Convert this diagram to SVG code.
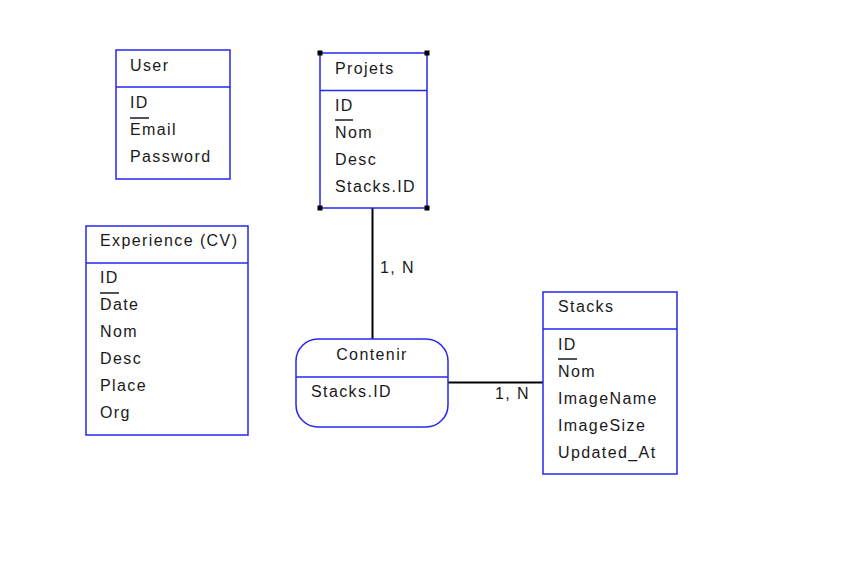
<svg xmlns="http://www.w3.org/2000/svg" width="850" height="567" viewBox="0 0 850 567">
<style>
.box{fill:#ffffff;stroke:#2626f2;stroke-width:1.5}
.div{stroke:#2626f2;stroke-width:1.5}
.t{font-family:"Liberation Sans",Arial,sans-serif;font-size:16px;letter-spacing:1.4px;fill:#1a1a1a}
.u{stroke:#1a1a1a;stroke-width:1.5}
.conn{stroke:#000000;stroke-width:2;fill:none}
.h{fill:#000000}
</style>
<rect width="850" height="567" fill="#ffffff"/>
<g id="connectors">
<line class="conn" x1="372.5" y1="208" x2="372.5" y2="339"/>
<line class="conn" x1="448" y1="382.5" x2="543" y2="382.5"/>
<text class="t" x="380" y="273">1, N</text>
<text class="t" x="495" y="399">1, N</text>
</g>
<g id="user">
<rect class="box" x="116" y="50" width="114" height="129"/>
<line class="div" x1="116" y1="87" x2="230" y2="87"/>
<text class="t" x="130" y="71">User</text>
<text class="t" x="130" y="108">ID</text>
<line class="u" x1="130" y1="118" x2="149" y2="118"/>
<text class="t" x="130" y="135">Email</text>
<text class="t" x="130" y="162">Password</text>
</g>
<g id="projets">
<rect class="box" x="320" y="53" width="107" height="155"/>
<line class="div" x1="320" y1="90.5" x2="427" y2="90.5"/>
<text class="t" x="335" y="74">Projets</text>
<text class="t" x="335" y="111">ID</text>
<line class="u" x1="335" y1="120" x2="353" y2="120"/>
<text class="t" x="335" y="138">Nom</text>
<text class="t" x="335" y="165">Desc</text>
<text class="t" x="335" y="192">Stacks.ID</text>
<rect class="h" x="317.5" y="50.5" width="5" height="5"/>
<rect class="h" x="424.5" y="50.5" width="5" height="5"/>
<rect class="h" x="317.5" y="205.5" width="5" height="5"/>
<rect class="h" x="424.5" y="205.5" width="5" height="5"/>
</g>
<g id="experience">
<rect class="box" x="86" y="226" width="162" height="209"/>
<line class="div" x1="86" y1="263" x2="248" y2="263"/>
<text class="t" x="100" y="246">Experience (CV)</text>
<text class="t" x="100" y="283">ID</text>
<line class="u" x1="100" y1="293" x2="119" y2="293"/>
<text class="t" x="100" y="310">Date</text>
<text class="t" x="100" y="337">Nom</text>
<text class="t" x="100" y="364">Desc</text>
<text class="t" x="100" y="391">Place</text>
<text class="t" x="100" y="418">Org</text>
</g>
<g id="stacks">
<rect class="box" x="543" y="292" width="134" height="182"/>
<line class="div" x1="543" y1="329" x2="677" y2="329"/>
<text class="t" x="558" y="312">Stacks</text>
<text class="t" x="558" y="350">ID</text>
<line class="u" x1="558" y1="359" x2="577" y2="359"/>
<text class="t" x="558" y="377">Nom</text>
<text class="t" x="558" y="404">ImageName</text>
<text class="t" x="558" y="431">ImageSize</text>
<text class="t" x="558" y="458">Updated_At</text>
</g>
<g id="contenir">
<rect class="box" x="296" y="339" width="152" height="88" rx="22" ry="22"/>
<line class="div" x1="296" y1="377" x2="448" y2="377"/>
<text class="t" x="372" y="360" text-anchor="middle">Contenir</text>
<text class="t" x="311" y="397">Stacks.ID</text>
</g>
</svg>
